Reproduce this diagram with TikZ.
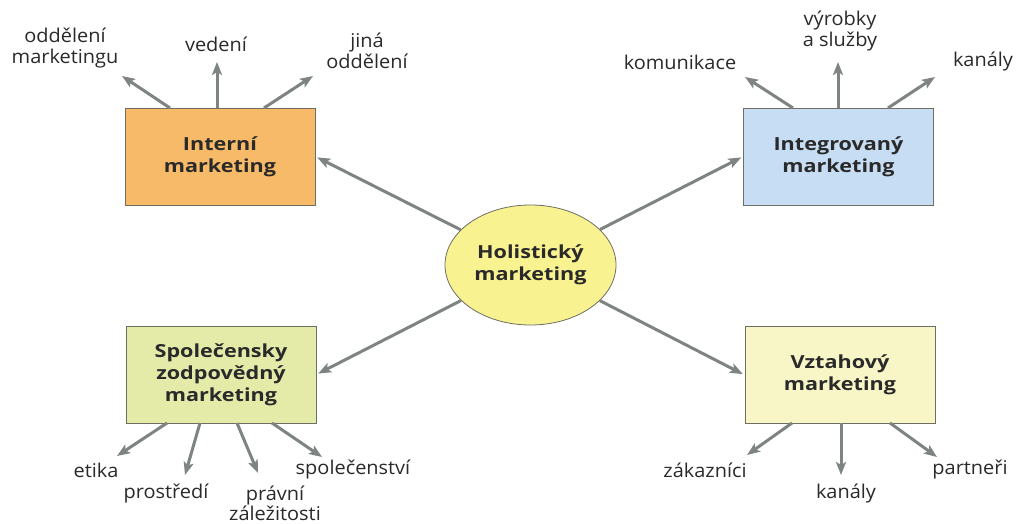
\documentclass[tikz,border=0pt]{standalone}
\usepackage{fontspec}
\setmainfont{Open Sans}
\newfontfamily\boxfont{Open Sans}[FakeStretch=1.2]
\newfontfamily\lblfont{Open Sans}[FakeStretch=1.05]
\usetikzlibrary{arrows.meta,shapes.geometric}
\definecolor{arr}{HTML}{7E8480}
\definecolor{edge}{HTML}{6E6E62}
\definecolor{cint}{HTML}{F6BA68}
\definecolor{cintg}{HTML}{C6DDF4}
\definecolor{cspol}{HTML}{E4EBA8}
\definecolor{cvzt}{HTML}{F8F5C6}
\definecolor{chol}{HTML}{F8F291}
\definecolor{txt}{HTML}{2A2A2A}
\tikzset{
  boxtext/.style={align=center, font=\boxfont\bfseries\fontsize{18}{22}\selectfont, text=txt, inner sep=0pt},
  box/.style={boxtext, draw=edge, line width=0.8pt, minimum width=190pt, minimum height=97pt},
  lbl/.style={align=center, font=\lblfont\fontsize{19}{21.5}\selectfont, text=txt, inner sep=0pt},
  con/.style={draw=arr, line width=3pt, -{Stealth[length=13pt,width=10pt,inset=3pt]}},
}
\begin{document}
\begin{tikzpicture}[x=1pt,y=-1pt]
\useasboundingbox (0,0) rectangle (1021,524);
\fill[white] (0,0) rectangle (1021,524);
% central ellipse
\node[boxtext, draw=edge, line width=0.8pt, fill=chol, ellipse, minimum width=171pt, minimum height=120pt] (hol) at (530.5,265) {Holistický\\marketing};
% boxes
\node[box, fill=cint]  (int)  at (220,156.5) {Interní\\marketing};
\node[box, fill=cintg] (intg) at (838.5,156.5) {Integrovaný\\marketing};
\node[box, fill=cspol] (spol) at (221,374.5) {Společensky\\zodpovědný\\marketing};
\node[box, fill=cvzt]  (vzt)  at (840,375) {Vztahový\\marketing};
% main connectors
\draw[con, shorten >=2pt] (hol) -- (int.east);
\draw[con, shorten >=2pt] (hol) -- (intg.west);
\draw[con, shorten >=2pt] (hol) -- (spol.east);
\draw[con, shorten >=2pt] (hol) -- (vzt.west);
% labels
\node[lbl] (l1) at (65,48) {oddělení\\marketingu};
\node[lbl] (l2) at (216,44) {vedení};
\node[lbl] (l3) at (367,51) {jiná\\oddělení};
\node[lbl] (l4) at (680,62) {komunikace};
\node[lbl] (l5) at (840,31) {výrobky\\a služby};
\node[lbl] (l6) at (983,62) {kanály};
\node[lbl] (l7) at (96,470) {etika};
\node[lbl] (l8) at (166,494) {prostředí};
\node[lbl, font=\lblfont\fontsize{19}{18.5}\selectfont] (l9) at (275,503) {právní\\záležitosti};
\node[lbl] (l10) at (353,470) {společenství};
\node[lbl] (l11) at (705,470) {zákazníci};
\node[lbl] (l12) at (846,494) {kanály};
\node[lbl] (l13) at (970,470) {partneři};
% connector end points
\coordinate (a1s) at (170,108); \coordinate (a1e) at (122,76);
\coordinate (a2s) at (217,108); \coordinate (a2e) at (217,62);
\coordinate (a3s) at (264,108); \coordinate (a3e) at (313,76);
\coordinate (a4s) at (793,108); \coordinate (a4e) at (745,77);
\coordinate (a5s) at (838,108); \coordinate (a5e) at (838,62);
\coordinate (a6s) at (888,108); \coordinate (a6e) at (935,77);
\coordinate (a7s) at (167,423); \coordinate (a7e) at (117,456);
\coordinate (a8s) at (200,423); \coordinate (a8e) at (185,475);
\coordinate (a9s) at (237,423); \coordinate (a9e) at (258,473);
\coordinate (a10s) at (272,423); \coordinate (a10e) at (322,457);
\coordinate (a11s) at (792,423); \coordinate (a11e) at (747,455);
\coordinate (a12s) at (841,423); \coordinate (a12e) at (841,475);
\coordinate (a13s) at (890,423); \coordinate (a13e) at (937,457);
\foreach \i in {1,...,13}{\draw[con] (a\i s) -- (a\i e);}
\end{tikzpicture}
\end{document}
